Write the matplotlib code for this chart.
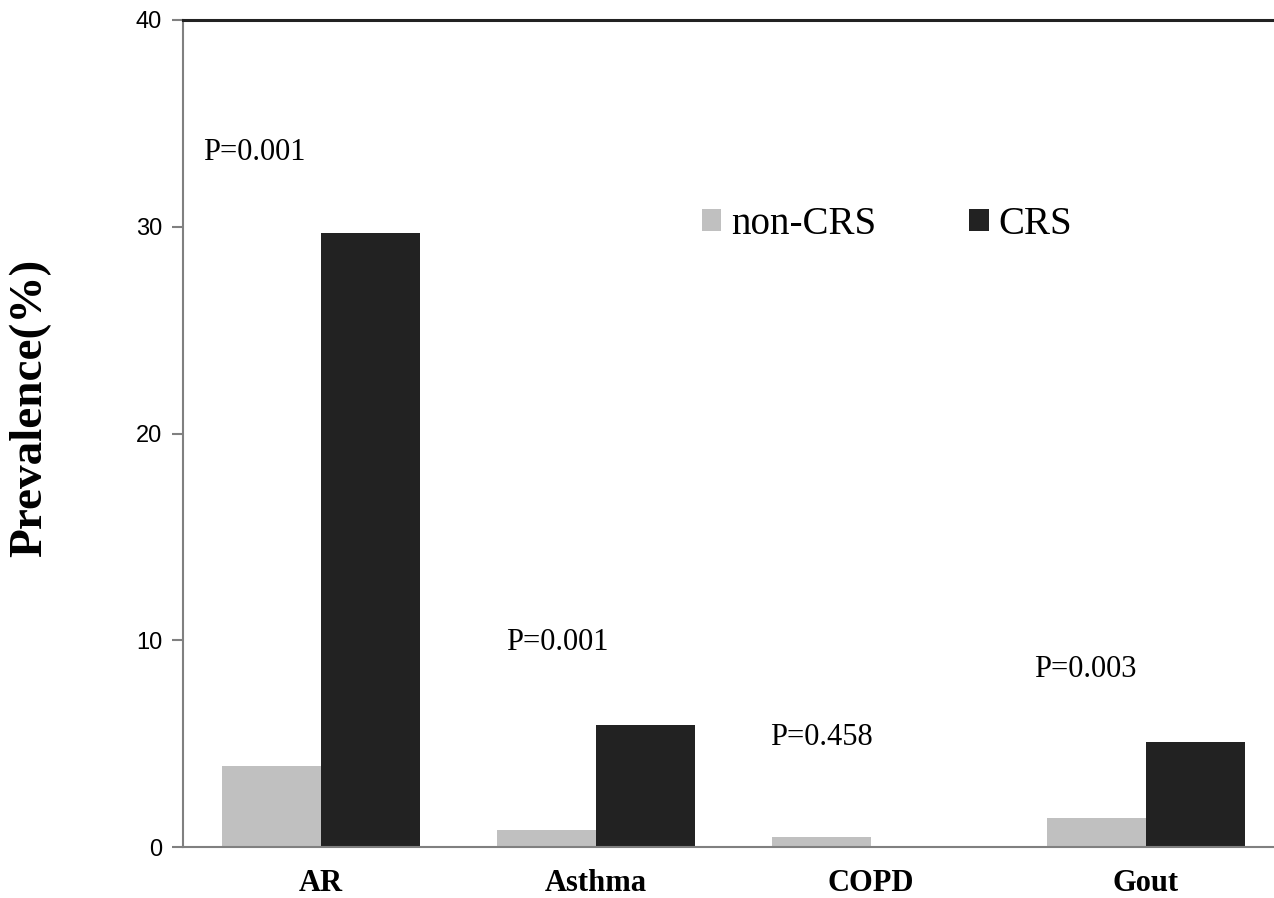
import matplotlib
matplotlib.use("Agg")
import matplotlib.pyplot as plt
import numpy as np

categories = ["AR", "Asthma", "COPD", "Gout"]
non_crs = [3.9, 0.8, 0.5, 1.4]
crs = [29.7, 5.9, 0.0, 5.1]
p_labels = ["P=0.001", "P=0.001", "P=0.458", "P=0.003"]
p_pos = [(-0.24, 33.6), (0.86, 9.9), (1.82, 5.3), (2.78, 8.6)]
yticks = [0, 10, 20, 30, 40]

fig = plt.figure(figsize=(12.74, 8.98), dpi=100)
ax = fig.add_axes([183 / 1274, 51 / 898, (1274 - 183) / 1274, (847 - 20) / 898])

x = np.arange(len(categories))
w = 0.36
ax.bar(x - w / 2, non_crs, w, color="#c0c0c0", label="non-CRS")
ax.bar(x + w / 2, crs, w, color="#222222", label="CRS")

ax.set_xlim(-0.5, 3.467)
ax.set_ylim(0, 40)
ax.set_yticks(yticks)
ax.set_yticklabels([str(v) for v in yticks], family="Liberation Sans", fontsize=17)
ax.set_xticks(x)
ax.set_xticklabels(categories, family="Liberation Serif", fontweight="bold", fontsize=22)
ax.tick_params(axis="x", length=0, pad=16)
ax.tick_params(axis="y", length=8, color="#808080", width=1.5, pad=7)

ax.spines["right"].set_visible(False)
ax.spines["top"].set_color("#222222")
ax.spines["top"].set_linewidth(2.2)
ax.spines["left"].set_color("#808080")
ax.spines["left"].set_linewidth(1.5)
ax.spines["bottom"].set_color("#808080")
ax.spines["bottom"].set_linewidth(1.5)

for lbl, (px, py) in zip(p_labels, p_pos):
    ax.text(px, py, lbl, ha="center", va="center", family="Liberation Serif", fontsize=22)

fig.text(30 / 1274, 1 - 408 / 898, "Prevalence(%)", rotation=90, ha="center", va="center",
         family="Liberation Serif", fontweight="bold", fontsize=34)

ax.legend(loc="center", bbox_to_anchor=((887 - 183) / 1091, (847 - 224) / 827), ncol=2, frameon=False,
          prop={"family": "Liberation Serif", "size": 28}, handlelength=0.5, handleheight=0.5,
          columnspacing=2.4, handletextpad=0.25)

fig.savefig("out.png", dpi=100)
